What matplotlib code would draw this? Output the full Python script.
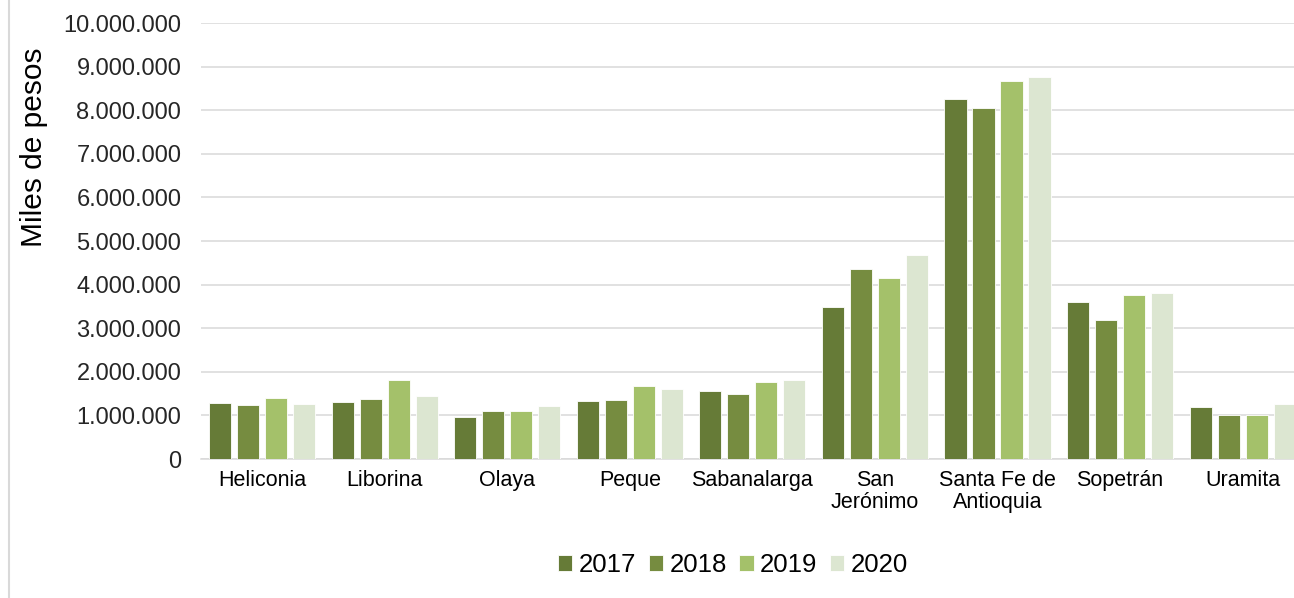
import matplotlib
matplotlib.use("Agg")
import matplotlib.pyplot as plt
from matplotlib.ticker import FuncFormatter, MultipleLocator
from matplotlib.lines import Line2D
import numpy as np

categories = ["Heliconia", "Liborina", "Olaya", "Peque", "Sabanalarga",
              "San\nJerónimo", "Santa Fe de\nAntioquia", "Sopetrán", "Uramita"]
years = ["2017", "2018", "2019", "2020"]
v2017 = [1290000, 1300000, 960000, 1320000, 1570000, 3480000, 8260000, 3610000, 1200000]
v2018 = [1250000, 1380000, 1110000, 1360000, 1480000, 4350000, 8050000, 3180000, 1010000]
v2019 = [1400000, 1820000, 1100000, 1670000, 1770000, 4140000, 8680000, 3770000, 1010000]
v2020 = [1260000, 1450000, 1210000, 1600000, 1810000, 4680000, 8760000, 3800000, 1270000]
series = [v2017, v2018, v2019, v2020]
colors = ["#667B37", "#768C40", "#A4C16A", "#DCE6D1"]

plt.rcParams['font.family'] = ['Liberation Sans', 'DejaVu Sans']

W, H = 1294, 598
fig = plt.figure(figsize=(W / 100, H / 100), dpi=100)
ax = fig.add_axes([200.7 / W, (H - 459) / H, (1304 - 200.7) / W, (459 - 23) / H])

x = np.arange(len(categories))
step = 0.2284
bw = 0.18
for i, (vals, col, yr) in enumerate(zip(series, colors, years)):
    ax.bar(x + (i - 1.5) * step, vals, width=bw, color=col, edgecolor="white",
           linewidth=0.6, label=yr, zorder=3)

ax.set_xlim(-0.5, len(categories) - 0.5)
ax.set_ylim(0, 10000000)
ax.yaxis.set_major_locator(MultipleLocator(1000000))
ax.yaxis.set_major_formatter(FuncFormatter(lambda v, p: f"{int(v):,}".replace(",", ".")))
ax.grid(axis="y", color="#D9D9D9", linewidth=1.1, zorder=0)
ax.set_axisbelow(True)
for s in ["left", "right", "top"]:
    ax.spines[s].set_visible(False)
ax.spines["bottom"].set_color("#D9D9D9")
ax.spines["bottom"].set_linewidth(1.1)
ax.tick_params(axis="y", length=0, pad=14, labelsize=17, labelcolor="#262626")
ax.tick_params(axis="x", length=0, pad=8, labelsize=15.5, labelcolor="#000000")
ax.set_xticks(x)
ax.set_xticklabels(categories, linespacing=1.05)

fig.text(34 / W, 1 - 147 / H, "Miles de pesos", rotation=90, ha="center", va="center",
         fontsize=21.5, color="#000000")

leg = fig.legend(loc="center", bbox_to_anchor=(733 / W, 1 - 565 / H), ncol=4, frameon=False,
                 fontsize=18.5, handlelength=0.55, handleheight=0.55, handletextpad=0.25,
                 columnspacing=0.5)

fig.add_artist(Line2D([8.5 / W, 8.5 / W], [0, 1], color="#D9D9D9", linewidth=1.5,
                      transform=fig.transFigure))

fig.savefig("out.png", dpi=100)
